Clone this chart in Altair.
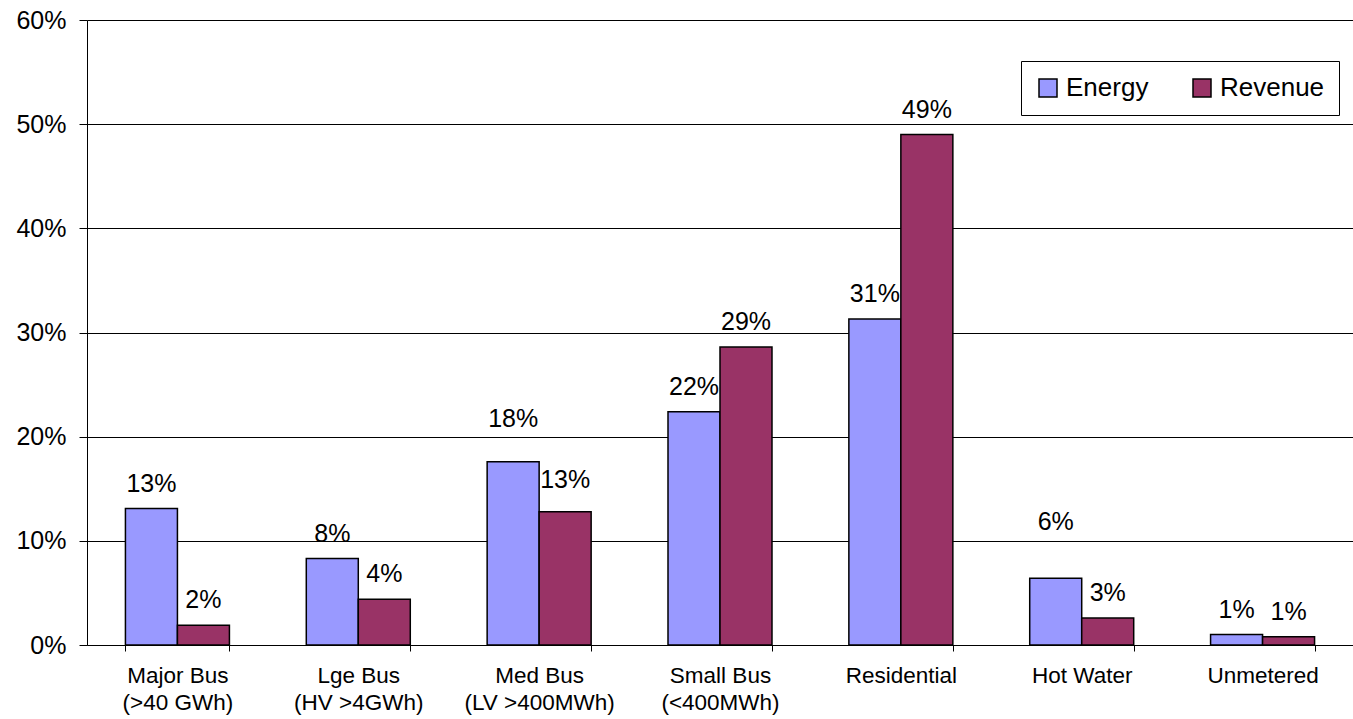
import altair as alt
import pandas as pd

# Share of total by customer class
categories = [
    "Major Bus\n(>40 GWh)",
    "Lge Bus\n(HV >4GWh)",
    "Med Bus\n(LV >400MWh)",
    "Small Bus\n(<400MWh)",
    "Residential",
    "Hot Water",
    "Unmetered",
]
energy = [13.1, 8.3, 17.6, 22.4, 31.3, 6.4, 1.0]
revenue = [1.9, 4.4, 12.8, 28.6, 49.0, 2.6, 0.8]
series = ["Energy", "Revenue"]
colors = ["#9999FF", "#993366"]

# a few value labels sit higher above their bars (extra lift in pixels)
label_lift = {(2, "Energy"): 18, (2, "Revenue"): 7, (5, "Energy"): 31}

rows = []
for i, cat in enumerate(categories):
    for name, vals in zip(series, [energy, revenue]):
        rows.append({
            "category": cat,
            "series": name,
            "share": vals[i] / 100.0,
            "lift": label_lift.get((i, name), 0),
        })
df = pd.DataFrame(rows)

FONT = "Liberation Sans"

x_enc = alt.X(
    "category:N",
    sort=categories,
    scale=alt.Scale(paddingInner=0.425, paddingOuter=0.2125),
    axis=alt.Axis(
        title=None,
        labelAngle=0,
        labelExpr="split(datum.label, '\\n')",
        labelFont=FONT,
        labelFontSize=22.5,
        labelLineHeight=27,
        labelColor="black",
        labelPadding=13,
        domainColor="black",
        domainWidth=1,
        tickColor="black",
        tickBand="extent",
        tickSize=6,
        grid=False,
    ),
)
y_enc = alt.Y(
    "share:Q",
    scale=alt.Scale(domain=[0, 0.6], nice=False),
    axis=alt.Axis(
        title=None,
        format=".0%",
        values=[0, 0.1, 0.2, 0.3, 0.4, 0.5, 0.6],
        labelFont=FONT,
        labelFontSize=25,
        labelColor="black",
        labelPadding=13,
        domainColor="black",
        domainWidth=1,
        tickColor="black",
        tickSize=8,
        grid=True,
        gridColor="black",
        gridWidth=1,
    ),
)
xoff = alt.XOffset("series:N", sort=series, scale=alt.Scale(paddingInner=0, paddingOuter=0))

base = alt.Chart(df).encode(x=x_enc, y=y_enc, xOffset=xoff)

bars = base.mark_bar(stroke="black", strokeWidth=1.5).encode(
    color=alt.Color(
        "series:N",
        sort=series,
        scale=alt.Scale(domain=series, range=colors),
        legend=alt.Legend(
            title=None,
            orient="none",
            legendX=934,
            legendY=41,
            direction="horizontal",
            symbolType="square",
            symbolSize=324,
            symbolStrokeColor="black",
            symbolStrokeWidth=1.5,
            symbolOpacity=1,
            labelFont=FONT,
            labelFontSize=26,
            labelColor="black",
            labelOffset=5,
            columnPadding=40,
            padding=14,
            strokeColor="black",
            fillColor="white",
        ),
    )
)

# value labels: one layer per lift amount
label_layers = []
for lift in sorted(set(df["lift"])):
    label_layers.append(
        base.transform_filter(alt.datum.lift == lift)
        .mark_text(baseline="alphabetic", dy=-17 - lift, font=FONT, fontSize=25, color="black")
        .encode(text=alt.Text("share:Q", format=".0%"))
    )

chart = (
    alt.layer(bars, *label_layers)
    .properties(
        width=1266,
        height=625,
        autosize=alt.AutoSizeParams(type="none"),
        padding={"left": 87, "top": 20, "right": 0, "bottom": 74},
        background="white",
    )
    .configure_view(stroke=None)
)

chart.save("out.html", embed_options={"renderer": "svg", "actions": False})
